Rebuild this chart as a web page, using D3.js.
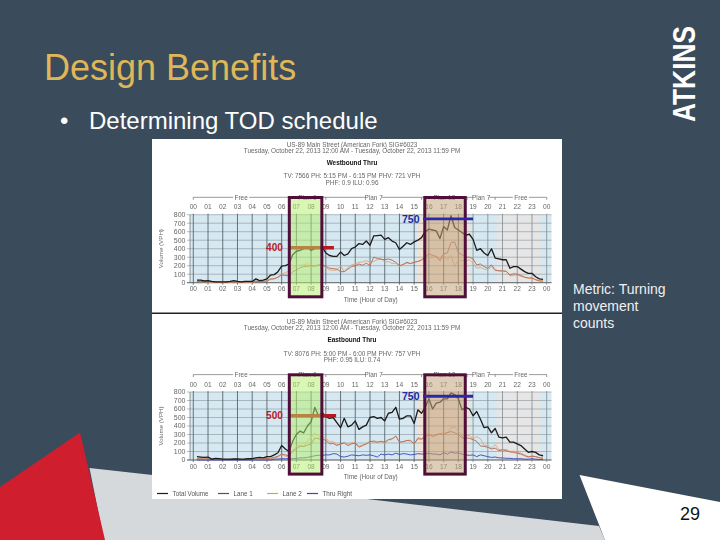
<!DOCTYPE html>
<html><head><meta charset="utf-8">
<style>html,body{margin:0;padding:0;background:#3a4b5b}svg{display:block}text{font-family:"Liberation Sans",Arial,sans-serif}</style>
<script src="https://cdn.jsdelivr.net/npm/d3@7/dist/d3.min.js"></script>
</head><body><svg id="s" width="720" height="540"></svg>
<script>
const hourLabels=["00","01","02","03","04","05","06","07","08","09","10","11","12","13","14","15","16","17","18","19","20","21","22","23","00"];
const volumeTicks=[0,100,200,300,400,500,600,700,800];
const planNames=["Free","Plan 6","Plan 7","Plan 13","Plan 7","Free"];
const planStarts=[0,6.5,9,15.5,18.6,20.5];
const planEnds=[6.5,9,15.5,18.6,20.5,24];
const legendNames=["Total Volume","Lane 1","Lane 2","Thru Right"];

const wbTotal=[30,30,20,
25,15,10,10, 10,10,15,25, 15,10,15,15, 15,45,25,30,
45,90,95,130, 195,200,220,330, 370,380,400,420, 380,400,410,420,
350,320,310,310, 360,320,340,400, 420,460,450,490, 440,550,555,560,
510,530,490,470, 390,430,470,450, 480,500,530,600, 630,620,610,520,
660,620,790,650, 620,590,560,570, 510,380,400,350, 320,400,290,280,
270,270,170,190, 190,160,130,110, 110,70,45,40];
const wbLane1=[15,15,10,
15,10,5,5, 5,5,10,12, 8,5,8,8, 8,15,12,15,
20,40,45,65, 90,85,80,130, 150,175,190,195, 200,195,210,215,
190,170,165,160, 130,130,160,190, 200,220,205,230, 200,300,285,275,
270,280,265,240, 200,215,240,225, 240,250,270,300, 340,320,310,270,
340,350,470,480, 350,330,300,300, 280,210,220,190, 170,210,150,140,
140,135,90,105, 100,85,65,55, 55,35,20,18];
const wbLane2=[15,12,10,
10,5,5,5, 5,5,5,13, 7,5,7,7, 7,30,13,15,
25,50,50,65, 105,115,140,170, 200,205,210,225, 180,205,200,205,
180,150,145,150, 200,130,180,210, 220,240,245,260, 240,250,270,285,
240,250,225,230, 190,215,230,225, 240,250,260,300, 290,300,300,250,
320,270,320,190, 270,260,260,270, 230,170,180,160, 150,190,140,140,
130,135,80,85, 90,75,65,55, 55,35,25,22];
const ebTotal=[40,35,30,
35,10,20,15, 10,10,10,12, 12,10,12,15, 15,25,30,25,
40,40,60,85, 170,130,100,220, 300,340,320,400, 450,620,520,560,
510,490,500,440, 380,490,390,410, 460,360,390,410, 500,510,490,500,
460,550,560,620, 480,490,520,520, 430,590,550,620, 720,600,670,680,
720,720,790,770, 720,590,620,600, 520,570,480,380, 390,320,370,270,
260,270,210,210, 190,170,130,90, 100,90,60,50];
const ebLane1=[15,15,12,
15,5,10,8, 5,5,5,6, 6,5,6,8, 8,12,15,12,
20,20,30,45, 70,60,50,110, 130,165,160,175, 190,260,250,240,
235,190,195,170, 190,200,170,190, 200,150,170,190, 220,215,210,220,
210,240,250,280, 210,215,230,225, 190,250,245,270, 300,280,300,310,
300,320,335,320, 300,260,260,255, 240,220,165,160, 150,130,140,110,
120,110,95,90, 80,70,50,35, 45,40,25,20];
const ebLane2=[12,10,10,
12,3,5,5, 3,3,3,4, 4,3,4,5, 5,8,10,8,
15,15,25,35, 60,45,40,100, 160,170,155,225, 260,320,275,265,
260,215,215,185, 180,210,185,205, 205,165,180,185, 210,230,210,215,
195,235,240,285, 215,215,230,235, 185,265,250,290, 320,270,290,300,
330,320,380,390, 340,280,285,285, 250,275,250,170, 175,140,180,125,
120,125,100,105, 90,80,60,40, 45,40,28,25];
const ebRight=[0,0,0,
0,0,0,0, 0,0,0,0, 0,0,0,0, 0,0,0,0,
0,0,10,12, 15,15,15,15, 20,25,25,30, 40,50,55,55,
60,60,75,70, 40,35,45,60, 55,50,60,55, 60,50,35,70,
60,70,60,80, 65,75,70,60, 65,75,70,70, 80,70,70,60,
85,70,95,80, 85,70,60,55, 60,40,60,50, 40,30,35,25,
25,20,20,15, 15,15,10,10, 15,10,5,5];
const annotTop=[{label:"400",value:412,from:6.45,to:9.55,kind:"am"},{label:"750",value:750,from:15.6,to:19,kind:"pm"}];
const annotBot=[{label:"500",value:522,from:6.45,to:9.7,kind:"am"},{label:"750",value:750,from:15.6,to:19,kind:"pm"}];

const svg=d3.select("#s");
const slidePolys=[
 {f:"#d6d9dc",p:[[89.5,468],[367,499],[599,526],[605,540],[104,540]]},
 {f:"#cf1f2e",p:[[80,432.5],[0,487],[0,540],[105,540]]},
 {f:"#ffffff",p:[[579.5,475],[720,502],[720,540],[605,540]]}];
svg.selectAll("path.bg").data(slidePolys).join("path").attr("d",d=>d3.line()(d.p)+"Z").attr("fill",d=>d.f);
const defs=svg.append("defs");
defs.append("filter").attr("id","soft").append("feGaussianBlur").attr("stdDeviation",0.4);

svg.append("text").attr("x",44).attr("y",80).attr("font-size",36).attr("fill","#dfb658").text("Design Benefits");
svg.append("text").attr("x",60).attr("y",129).attr("font-size",24).attr("fill","#fff").text("•");
svg.append("text").attr("x",89).attr("y",129).attr("font-size",24).attr("fill","#fff").text("Determining TOD schedule");
["Metric: Turning","movement","counts"].forEach((t,i)=>svg.append("text").attr("x",573).attr("y",294+i*17).attr("font-size",14).attr("fill","#f0f0f0").text(t));
svg.append("text").attr("x",680).attr("y",520).attr("font-size",18).attr("fill","#111").text("29");
svg.append("text").attr("transform","translate(695,122) rotate(-90)").attr("font-size",31).attr("font-weight","bold")
 .attr("textLength",96).attr("lengthAdjust","spacingAndGlyphs").attr("fill","#fff").text("ATKINS");

svg.append("rect").attr("x",152).attr("y",139).attr("width",410).attr("height",360).attr("fill","#fff");
svg.append("rect").attr("x",152).attr("y",312.5).attr("width",410).attr("height",1.5).attr("fill","#222");

const x=d3.scaleLinear().domain([0,24]).range([193.3,546.7]);
const T="#666";
function chart(o){
 const g=svg.append("g").attr("filter","url(#soft)");
 const y=d3.scaleLinear().domain([0,800]).range([o.y0,o.y0-68]);
 const cx=352;
 const head=(s,dy,b)=>g.append("text").attr("x",cx).attr("y",o.y0+dy).attr("text-anchor","middle").attr("font-size",6.4).attr("font-weight",b?"bold":null).attr("fill",b?"#111":T).text(s);
 head(o.site,-136);head(o.span,-130);head(o.dir,-118,true);head(o.stat1,-104.5);head(o.stat2,-98);
 g.append("rect").attr("x",190).attr("y",y(800)).attr("width",361.5).attr("height",68).attr("fill","#d6e8f1");
 g.append("rect").attr("x",x(15.2)).attr("y",y(800)).attr("width",x(18.8)-x(15.2)).attr("height",68).attr("fill","#f0e2d8");
 g.append("rect").attr("x",x(20.6)).attr("y",y(800)).attr("width",x(23.6)-x(20.6)).attr("height",68).attr("fill","#e6e6e6");
 g.selectAll("line.h").data(volumeTicks).join("line").attr("x1",187).attr("x2",551.5).attr("y1",d=>y(d)).attr("y2",d=>y(d)).attr("stroke","#8a949b").attr("stroke-width",0.6);
 g.selectAll("line.v").data(d3.range(25)).join("line").attr("x1",d=>x(d)).attr("x2",d=>x(d)).attr("y1",y(800)-1).attr("y2",y(0)+2).attr("stroke",d=>d>=19?"#7d8a92":"#4a555d").attr("stroke-width",0.8);
 g.append("line").attr("x1",190).attr("x2",190).attr("y1",y(800)).attr("y2",y(0)).attr("stroke","#555").attr("stroke-width",0.6);
 g.append("line").attr("x1",187).attr("x2",551.5).attr("y1",y(0)).attr("y2",y(0)).attr("stroke","#555").attr("stroke-width",0.8);
 g.selectAll("text.yt").data(volumeTicks).join("text").attr("x",185.5).attr("y",d=>y(d)+2.4).attr("text-anchor","end").attr("font-size",7).attr("fill",T).text(d=>d);
 [o.y0-73.5,o.y0+8.5].forEach(yy=>{
  g.selectAll(null).data(hourLabels).join("text").attr("x",(d,i)=>x(i)).attr("y",yy).attr("text-anchor","middle").attr("font-size",6.6).attr("fill",T).text(d=>d);
 });
 g.append("text").attr("transform",`translate(162.5,${o.y0-34}) rotate(-90)`).attr("text-anchor","middle").attr("font-size",6.2).attr("fill",T).text("Volume (VPH)");
 g.append("text").attr("x",370.7).attr("y",o.y0+18.8).attr("text-anchor","middle").attr("font-size",6.4).attr("fill",T).text("Time (Hour of Day)");
 const by=o.y0-85.4;
 planNames.forEach((n,i)=>{
  g.append("line").attr("x1",x(planStarts[i])).attr("x2",x(planEnds[i])).attr("y1",by).attr("y2",by).attr("stroke","#555").attr("stroke-width",0.6);
  g.append("line").attr("x1",x(planStarts[i])).attr("x2",x(planStarts[i])).attr("y1",by).attr("y2",by+2.5).attr("stroke","#555").attr("stroke-width",0.6);
  const mx=(x(planStarts[i])+x(planEnds[i]))/2;
  g.append("rect").attr("x",mx-8).attr("y",by-3).attr("width",16).attr("height",6).attr("fill","#fff");
  g.append("text").attr("x",mx).attr("y",by+2.2).attr("text-anchor","middle").attr("font-size",6.4).attr("fill",T).text(n);
 });
 g.append("line").attr("x1",x(24)).attr("x2",x(24)).attr("y1",by).attr("y2",by+2.5).attr("stroke","#555").attr("stroke-width",0.6);
 const line=d3.line().x((d,i)=>x((i+1)/4)).y(d=>y(d));
 o.series.forEach(s=>g.append("path").attr("d",line(s.v)).attr("fill","none").attr("stroke",s.c).attr("stroke-width",s.w).attr("stroke-linejoin","round"));
 const over=svg.append("g");
 o.ann.filter(a=>a.kind==="am").forEach(a=>{
  over.append("line").attr("x1",x(a.from)).attr("x2",x(a.to)).attr("y1",y(a.value)).attr("y2",y(a.value)).attr("stroke","#b8181f").attr("stroke-width",3.5);
  over.append("text").attr("x",x(a.from)-5.5).attr("y",y(a.value)+3.5).attr("text-anchor","end").attr("font-size",10).attr("font-weight","bold").attr("fill","#b8202a").text(a.label);
 });
 const top=o.y0-85.2,h=99.3;
 over.append("rect").attr("x",x(6.52)).attr("y",top).attr("width",x(8.73)-x(6.52)).attr("height",h).attr("fill","#b4f06a").attr("opacity",0.5);
 over.append("rect").attr("x",x(15.72)).attr("y",top).attr("width",x(18.47)-x(15.72)).attr("height",h).attr("fill","#c2a47c").attr("opacity",0.55);
 over.selectAll(null).data([[6.52,8.73],[15.72,18.47]]).join("rect").attr("x",d=>x(d[0])).attr("y",top).attr("width",d=>x(d[1])-x(d[0])).attr("height",h).attr("fill","none").attr("stroke","#4f0f3a").attr("stroke-width",3);
 o.ann.filter(a=>a.kind==="pm").forEach(a=>{
  over.append("line").attr("x1",x(a.from)).attr("x2",x(a.to)).attr("y1",y(a.value)).attr("y2",y(a.value)).attr("stroke","#2a2aa8").attr("stroke-width",2.8);
  over.append("text").attr("x",x(a.from)-3.5).attr("y",y(a.value)+3.6).attr("text-anchor","end").attr("font-size",10.5).attr("font-weight","bold").attr("fill","#1c2a9c").text(a.label);
 });
}
const cT="#1a1a1a",c1="#b5674f",c2="#e0a878",c3="#3c46b0";
chart({y0:282.7,site:"US-89 Main Street (American Fork) SIG#6023",span:"Tuesday, October 22, 2013 12:00 AM - Tuesday, October 22, 2013 11:59 PM",dir:"Westbound Thru",
 stat1:"TV: 7566 PH: 5:15 PM - 6:15 PM PHV: 721 VPH",stat2:"PHF: 0.9      ILU: 0.96",ann:annotTop,
 series:[{v:wbLane2,c:c2,w:.9},{v:wbLane1,c:c1,w:.9},{v:wbTotal,c:cT,w:1.3}]});
chart({y0:460,site:"US-89 Main Street (American Fork) SIG#6023",span:"Tuesday, October 22, 2013 12:00 AM - Tuesday, October 22, 2013 11:59 PM",dir:"Eastbound Thru",
 stat1:"TV: 8076 PH: 5:00 PM - 6:00 PM PHV: 757 VPH",stat2:"PHF: 0.95      ILU: 0.74",ann:annotBot,
 series:[{v:ebLane2,c:c2,w:.9},{v:ebLane1,c:c1,w:.9},{v:ebRight,c:c3,w:.9},{v:ebTotal,c:cT,w:1.3}]});
const lg=svg.append("g").attr("filter","url(#soft)");
const legendColors=[cT,"#8a3a30","#dba050",c3];
const legendX=[157,218,267,307];
legendNames.forEach((n,i)=>{
 lg.append("line").attr("x1",legendX[i]).attr("x2",legendX[i]+11).attr("y1",493.5).attr("y2",493.5).attr("stroke",legendColors[i]).attr("stroke-width",1.2);
 lg.append("text").attr("x",legendX[i]+15.5).attr("y",495.8).attr("font-size",6.3).attr("fill","#555").text(n);
});
</script></body></html>
